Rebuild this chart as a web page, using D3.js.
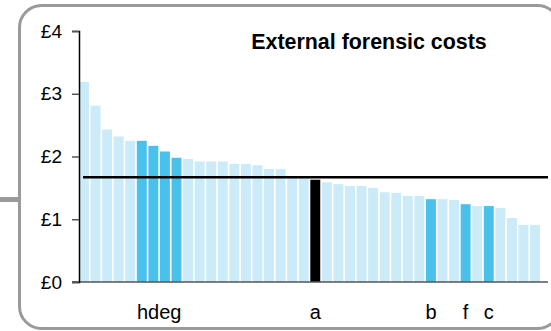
<!DOCTYPE html>
<html>
<head>
<meta charset="utf-8">
<script src="https://cdn.jsdelivr.net/npm/d3@7"></script>
<style>
  body { margin: 0; background: #fff; }
  svg { display: block; font-family: Arial, "Liberation Sans", sans-serif; }
</style>
</head>
<body>
<div id="chart"></div>
<script>
// costs per force, sorted, in pounds
var costs = [3.19, 2.81, 2.43, 2.32, 2.25, 2.25, 2.17, 2.08, 1.98, 1.96,
             1.92, 1.92, 1.92, 1.88, 1.88, 1.86, 1.80, 1.80, 1.68, 1.67,
             1.63, 1.59, 1.56, 1.53, 1.53, 1.50, 1.43, 1.42, 1.37, 1.37,
             1.32, 1.32, 1.31, 1.24, 1.21, 1.21, 1.18, 1.02, 0.91, 0.91];
// 0 = other, 1 = highlighted, 2 = this force
var kinds = [0,0,0,0,0,1,1,1,1,0,
             0,0,0,0,0,0,0,0,0,0,
             2,0,0,0,0,0,0,0,0,0,
             1,0,0,1,0,1,0,0,0,0];
var letters = [
    {label: "hdeg", from: 5, to: 8},
    {label: "a", from: 20, to: 20},
    {label: "b", from: 30, to: 30},
    {label: "f", from: 33, to: 33},
    {label: "c", from: 35, to: 35}
];
var average = 1.67;
var yTicks = [0, 1, 2, 3, 4];
var title = "External forensic costs";

var colours = ["#cbebf8", "#4ac1eb", "#000000"];

var width = 551,
    height = 331;

var svg = d3.select("#chart")
    .append("svg")
    .attr("width", width)
    .attr("height", height);

// frame
svg.append("rect")
    .attr("x", 0)
    .attr("y", 197)
    .attr("width", 20)
    .attr("height", 5)
    .style("fill", "#9a9a9a");

svg.append("rect")
    .attr("x", 19.5)
    .attr("y", 5.5)
    .attr("width", 540)
    .attr("height", 323)
    .attr("rx", 22)
    .attr("ry", 22)
    .style("fill", "#fff")
    .style("stroke", "#9a9a9a")
    .style("stroke-width", 3);

var xScale = d3.scaleBand()
    .domain(d3.range(costs.length))
    .range([79, 540])
    .paddingInner(0.14)
    .paddingOuter(0);
var yScale = d3.scaleLinear().domain([0, 4]).range([282, 31]);

svg.selectAll(".bar")
    .data(costs)
    .enter()
    .append("rect")
    .attr("class", "bar")
    .attr("x", (d, i) => xScale(i))
    .attr("y", d => yScale(d))
    .attr("width", xScale.bandwidth())
    .attr("height", d => yScale(0) - yScale(d))
    .style("fill", (d, i) => colours[kinds[i]]);

// average line
svg.append("line")
    .attr("x1", 83)
    .attr("x2", 548)
    .attr("y1", yScale(average))
    .attr("y2", yScale(average))
    .style("stroke", "#000")
    .style("stroke-width", 2.5);

// baseline
svg.append("line")
    .attr("x1", 72)
    .attr("x2", 548)
    .attr("y1", yScale(0))
    .attr("y2", yScale(0))
    .style("stroke", "#555")
    .style("stroke-width", 1.5);

// Add the Y Axis
var yAxis = d3.axisLeft(yScale)
    .tickValues(yTicks)
    .tickFormat(d => "£" + d)
    .tickSizeOuter(0)
    .tickSize(7)
    .tickPadding(10);

var yg = svg.append("g")
    .attr("class", "y axis")
    .attr("transform", "translate(79,0)")
    .call(yAxis);
yg.select(".domain").style("stroke", "#000").style("stroke-width", 1.5);
yg.selectAll(".tick line").style("stroke", "#555").style("stroke-width", 1.5);
yg.selectAll(".tick text")
    .style("font-size", "19px")
    .style("font-family", "Arial, 'Liberation Sans', sans-serif")
    .style("fill", "#000");

// letters under the bars
svg.selectAll(".letter")
    .data(letters)
    .enter()
    .append("text")
    .attr("class", "letter")
    .attr("x", d => (xScale(d.from) + xScale(d.to) + xScale.bandwidth()) / 2)
    .attr("y", 319)
    .attr("text-anchor", "middle")
    .style("font-size", "20px")
    .text(d => d.label);

svg.append("text")
    .attr("x", 369)
    .attr("y", 49)
    .attr("text-anchor", "middle")
    .style("font-size", "21.4px")
    .style("font-weight", "bold")
    .text(title);
</script>
</body>
</html>
